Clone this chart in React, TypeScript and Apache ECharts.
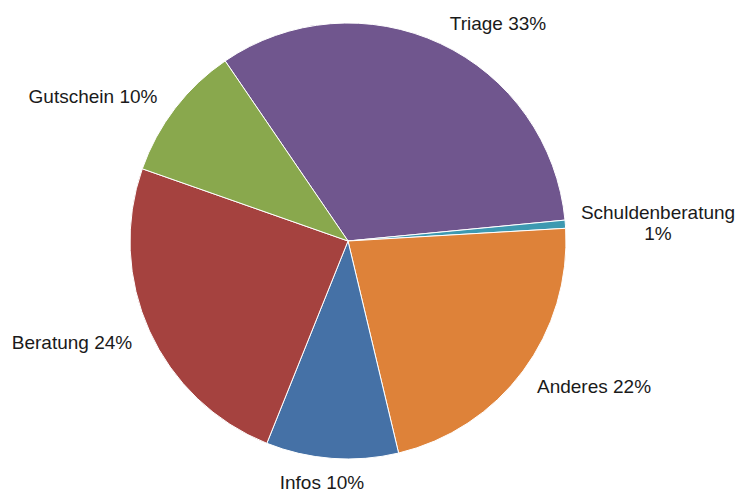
import React, { useEffect, useRef } from "react";
import * as echarts from "echarts";

const categories = ["Triage", "Schuldenberatung", "Anderes", "Infos", "Beratung", "Gutschein"];
const values = [33.0, 0.6, 22.2, 9.8, 24.3, 10.1];
const colors = ["#70568E", "#3D99B1", "#DE8239", "#4571A6", "#A5423F", "#89A84D"];
const labelText = ["Triage 33%", "Schuldenberatung\n1%", "Anderes 22%", "Infos 10%", "Beratung 24%", "Gutschein 10%"];
const labelPos: [number, number][] = [
  [498, 23],
  [658, 223],
  [594, 386],
  [322, 482],
  [72, 342],
  [93, 96],
];

export default function App() {
  const ref = useRef<HTMLDivElement>(null);
  useEffect(() => {
    if (!ref.current) return;
    const chart = echarts.init(ref.current, null, { renderer: "svg" });
    chart.setOption({
      animation: false,
      backgroundColor: "#ffffff",
      series: [
        {
          type: "pie",
          center: [348, 241],
          radius: 218,
          startAngle: 124.3,
          clockwise: true,
          avoidLabelOverlap: false,
          data: categories.map((c, i) => ({
            name: c,
            value: values[i],
            itemStyle: { color: colors[i] },
          })),
          itemStyle: { borderColor: "#ffffff", borderWidth: 1 },
          label: {
            show: true,
            position: "outside",
            formatter: (p: any) => labelText[p.dataIndex],
            fontFamily: "Liberation Sans, Arial, sans-serif",
            fontSize: 19,
            color: "#1a1a1a",
            lineHeight: 21,
            align: "center",
          },
          labelLine: { show: false },
          labelLayout: (p: any) => ({
            x: labelPos[p.dataIndex][0],
            y: labelPos[p.dataIndex][1],
            align: "center",
            verticalAlign: "middle",
          }),
          emphasis: { disabled: true },
        },
      ],
    });
    return () => chart.dispose();
  }, []);
  return <div ref={ref} style={{ width: 740, height: 491, position: "absolute", left: 0, top: 0 }} />;
}
